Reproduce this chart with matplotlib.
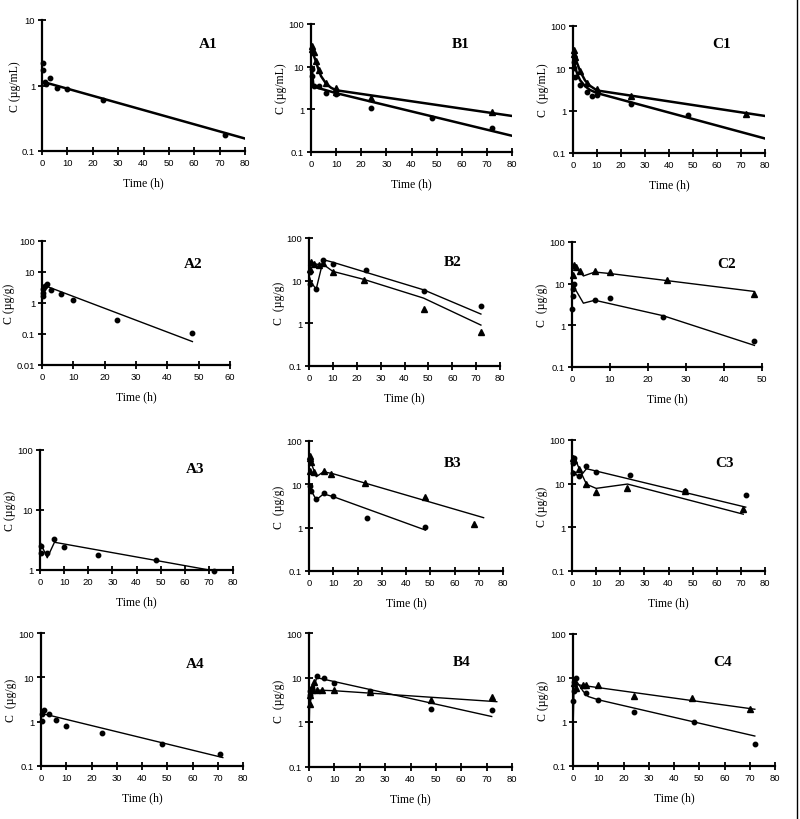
import matplotlib
matplotlib.use('Agg')
import matplotlib.pyplot as plt
from matplotlib.lines import Line2D

plt.rcParams['font.family'] = ['Liberation Serif', 'DejaVu Serif']

# ---- data (t in h, C in ug/mL or ug/g) ----
A1_dot_t = [0.25, 0.5, 1, 1.5, 3, 6, 10, 24, 72]
A1_dot_c = [2.2, 1.7, 1.15, 1.05, 1.3, 0.91, 0.89, 0.61, 0.177]
A1_fit_t = [1, 80]
A1_fit_c = [1.12, 0.155]

B1_tri_t = [0.25, 0.5, 1, 2, 3, 6, 10, 10, 24, 72]
B1_tri_c = [31, 26, 21.6, 13.8, 8.4, 4.07, 3.1, 2.6, 1.84, 0.85]
B1_tri_fit_t = [0, 1, 2, 3, 4, 6, 8, 10, 80]
B1_tri_fit_c = [28, 19, 13, 8.5, 6, 4, 3.2, 2.8, 0.7]
B1_dot_t = [0.25, 0.5, 1, 3, 6, 10, 24, 48, 72]
B1_dot_c = [9, 6.2, 3.6, 3.6, 2.4, 2.3, 1.1, 0.62, 0.36]
B1_dot_fit_t = [0.25, 1, 10, 80]
B1_dot_fit_c = [10, 3.4, 2.4, 0.24]

C1_tri_t = [0.25, 0.5, 1, 3, 6, 10, 24, 72]
C1_tri_c = [27, 22.3, 18.7, 8.5, 4.4, 3.3, 2.2, 0.85]
C1_tri_fit_t = [0, 1, 2, 3, 5, 7, 10, 80]
C1_tri_fit_c = [25, 17, 12, 8.5, 5.2, 3.9, 3.0, 0.75]
C1_dot_t = [0.25, 0.5, 1, 3, 6, 8, 10, 24, 48]
C1_dot_c = [14, 10, 6.3, 4.1, 2.8, 2.2, 2.3, 1.4, 0.78]
C1_dot_fit_t = [0, 1, 2, 3, 5, 7, 10, 80]
C1_dot_fit_c = [18, 10, 6.8, 5.2, 3.8, 3.1, 2.6, 0.22]

A2_dot_t = [0.25, 0.25, 0.25, 0.5, 1, 1.5, 3, 6, 10, 24, 48]
A2_dot_c = [1.7, 2.15, 2.8, 3.4, 3.6, 4.0, 2.6, 1.9, 1.25, 0.28, 0.11]
A2_fit_t = [0.25, 1, 48]
A2_fit_c = [2.0, 3.6, 0.057]

B2_dot_t = [0.25, 0.5, 3, 6, 10, 24, 48, 72]
B2_dot_c = [8.5, 16, 6.5, 30, 24.6, 18, 5.6, 2.6]
B2_dot_fit_t = [0.25, 1, 3, 6, 10, 48, 72]
B2_dot_fit_c = [12, 9, 6.3, 31, 27, 6.1, 1.65]
B2_tri_t = [0.5, 1, 2, 4, 6, 10, 23, 48, 72]
B2_tri_c = [19, 28, 25, 23, 26, 16, 10.5, 2.2, 0.62]
B2_tri_fit_t = [0.5, 1, 2, 4, 6, 10, 23, 48, 72]
B2_tri_fit_c = [22, 29, 25, 24, 24, 16.5, 10.7, 3.9, 0.91]

C2_tri_t = [0.25, 0.5, 1, 2, 6, 10, 25, 48]
C2_tri_c = [16, 28.5, 25, 19.8, 19.9, 19, 12, 5.5]
C2_tri_fit_t = [0.25, 0.5, 1, 3, 6, 10, 48]
C2_tri_fit_c = [25, 28, 26, 15.3, 19, 17.5, 6.5]
C2_dot_t = [0.1, 0.25, 0.25, 0.5, 6, 10, 24, 48]
C2_dot_c = [2.5, 5, 7.5, 10, 4.0, 4.5, 1.6, 0.42]
C2_dot_fit_t = [0.5, 1, 3, 6, 24, 48]
C2_dot_fit_c = [9, 7, 3.4, 4.0, 1.7, 0.33]

A3_dot_t = [0.25, 0.5, 3, 6, 10, 24, 48, 72]
A3_dot_c = [2.5, 1.9, 1.9, 3.3, 2.4, 1.8, 1.48, 0.98]
A3_fit_t = [0.25, 3, 6, 72]
A3_fit_c = [2.8, 1.6, 2.9, 0.97]

B3_tri_t = [0.25, 0.25, 0.5, 1, 2, 6, 9, 23, 48, 68]
B3_tri_c = [20, 40, 46, 33, 19.6, 20, 17, 11, 5.0, 1.2]
B3_tri_fit_t = [0.25, 1, 3, 6, 10, 72]
B3_tri_fit_c = [45, 30, 15, 19.5, 17.5, 1.7]
B3_dot_t = [0.25, 1, 3, 6, 10, 24, 48]
B3_dot_c = [9.2, 7.1, 4.5, 6.2, 5.4, 1.7, 1.05]
B3_dot_fit_t = [0.25, 1, 3, 6, 10, 48]
B3_dot_fit_c = [9, 7, 4.4, 6.0, 5.2, 0.88]

C3_dot_t = [0.25, 0.5, 1, 3, 6, 10, 24, 47, 72]
C3_dot_c = [18, 30, 39, 15, 25.4, 18.8, 15.5, 6.8, 5.6]
C3_dot_fit_t = [0.25, 3, 6, 72]
C3_dot_fit_c = [20, 13.7, 22, 2.9]
C3_tri_t = [0.5, 1, 3, 6, 10, 23, 47, 71]
C3_tri_c = [39, 35, 22, 9.7, 6.4, 8.1, 6.8, 2.6]
C3_tri_fit_t = [0.5, 1, 3, 6, 10, 23, 71]
C3_tri_fit_c = [30, 40, 22, 9.7, 7.8, 9.8, 2.0]

A4_dot_t = [0.25, 0.5, 1, 3, 6, 10, 24, 48, 71]
A4_dot_c = [1.03, 1.47, 1.8, 1.49, 1.11, 0.8, 0.55, 0.31, 0.19]
A4_fit_t = [0.25, 1, 72]
A4_fit_c = [1.3, 1.5, 0.155]

B4_dot_t = [0.25, 0.5, 1, 3, 6, 10, 24, 48, 72]
B4_dot_c = [4, 5, 6, 10.7, 9.7, 7.6, 5.1, 2.0, 1.9]
B4_dot_fit_t = [0.1, 0.25, 3, 72]
B4_dot_fit_c = [1.0, 2.5, 10, 1.35]
B4_tri_t = [0.25, 0.5, 1, 2, 3, 5, 10, 24, 48, 72]
B4_tri_c = [2.6, 4, 5.4, 7.9, 5.4, 5.3, 5.3, 4.9, 3.2, 3.6]
B4_tri_fit_t = [0.25, 2, 10, 74]
B4_tri_fit_c = [3, 5.3, 5.1, 2.9]

C4_dot_t = [0.1, 0.25, 0.5, 1, 5, 10, 24, 48, 72]
C4_dot_c = [3, 5, 8, 9.8, 4.5, 3.1, 1.66, 1.0, 0.31]
C4_dot_fit_t = [0.1, 0.5, 2, 4, 6, 10, 72]
C4_dot_fit_c = [1.1, 10, 7.5, 5, 3.8, 3.2, 0.48]
C4_tri_t = [0.5, 1, 4, 5, 10, 24, 47, 70]
C4_tri_c = [7.9, 6, 7, 7, 7, 4.0, 3.5, 2.0]
C4_tri_fit_t = [0.5, 2, 72]
C4_tri_fit_c = [8.5, 7, 1.95]

# panel name, box in pixels (left, top, right, bottom), xmax, ylim, ylabel, label pos
W, H = 800, 820
panels = [
    ('A1', (42, 21, 245, 152), 80, (0.1, 10), 'C (µg/mL)', (208, 44)),
    ('B1', (311, 25, 512, 153), 80, (0.1, 100), 'C (µg/mL)', (461, 44)),
    ('C1', (573, 27, 765, 154), 80, (0.1, 100), 'C  (µg/mL)', (722, 45)),
    ('A2', (42, 242, 230, 366), 60, (0.01, 100), 'C (µg/g)', (193, 264)),
    ('B2', (309, 239, 500, 367), 80, (0.1, 100), 'C  (µg/g)', (453, 263)),
    ('C2', (572, 243, 762, 368), 50, (0.1, 100), 'C  (µg/g)', (727, 264)),
    ('A3', (40, 451, 233, 571), 80, (1, 100), 'C (µg/g)', (195, 470)),
    ('B3', (309, 442, 503, 572), 80, (0.1, 100), 'C  (µg/g)', (453, 464)),
    ('C3', (572, 441, 765, 572), 80, (0.1, 100), 'C (µg/g)', (725, 464)),
    ('A4', (41, 634, 243, 767), 80, (0.1, 100), 'C  (µg/g)', (195, 664)),
    ('B4', (309, 634, 512, 768), 80, (0.1, 100), 'C  (µg/g)', (462, 663)),
    ('C4', (573, 635, 775, 767), 80, (0.1, 100), 'C (µg/g)', (723, 663)),
]

series = {
    'A1': [('o', A1_dot_t, A1_dot_c, A1_fit_t, A1_fit_c)],
    'B1': [('^', B1_tri_t, B1_tri_c, B1_tri_fit_t, B1_tri_fit_c),
           ('o', B1_dot_t, B1_dot_c, B1_dot_fit_t, B1_dot_fit_c)],
    'C1': [('^', C1_tri_t, C1_tri_c, C1_tri_fit_t, C1_tri_fit_c),
           ('o', C1_dot_t, C1_dot_c, C1_dot_fit_t, C1_dot_fit_c)],
    'A2': [('o', A2_dot_t, A2_dot_c, A2_fit_t, A2_fit_c)],
    'B2': [('o', B2_dot_t, B2_dot_c, B2_dot_fit_t, B2_dot_fit_c),
           ('^', B2_tri_t, B2_tri_c, B2_tri_fit_t, B2_tri_fit_c)],
    'C2': [('^', C2_tri_t, C2_tri_c, C2_tri_fit_t, C2_tri_fit_c),
           ('o', C2_dot_t, C2_dot_c, C2_dot_fit_t, C2_dot_fit_c)],
    'A3': [('o', A3_dot_t, A3_dot_c, A3_fit_t, A3_fit_c)],
    'B3': [('^', B3_tri_t, B3_tri_c, B3_tri_fit_t, B3_tri_fit_c),
           ('o', B3_dot_t, B3_dot_c, B3_dot_fit_t, B3_dot_fit_c)],
    'C3': [('o', C3_dot_t, C3_dot_c, C3_dot_fit_t, C3_dot_fit_c),
           ('^', C3_tri_t, C3_tri_c, C3_tri_fit_t, C3_tri_fit_c)],
    'A4': [('o', A4_dot_t, A4_dot_c, A4_fit_t, A4_fit_c)],
    'B4': [('o', B4_dot_t, B4_dot_c, B4_dot_fit_t, B4_dot_fit_c),
           ('^', B4_tri_t, B4_tri_c, B4_tri_fit_t, B4_tri_fit_c)],
    'C4': [('o', C4_dot_t, C4_dot_c, C4_dot_fit_t, C4_dot_fit_c),
           ('^', C4_tri_t, C4_tri_c, C4_tri_fit_t, C4_tri_fit_c)],
}

fig = plt.figure(figsize=(8, 8.2), dpi=100)

for name, (l, t, r, b), xmax, (ylo, yhi), ylab, (lx, ly) in panels:
    ax = fig.add_axes([l / W, 1 - b / H, (r - l) / W, (b - t) / H])
    lw = 1.8 if name.endswith('1') else 1.0
    for mk, xt, yc, ft, fc in series[name]:
        ax.plot(ft, fc, color='black', lw=lw)
        ax.plot(xt, yc, ls='none', marker=mk, color='black',
                ms=5 if mk == '^' else 3.2, clip_on=False)
    ax.set_yscale('log')
    ax.set_xlim(0, xmax)
    ax.set_ylim(ylo, yhi)
    ax.set_xticks(range(0, xmax + 1, 10))
    decades = []
    v = ylo
    while v <= yhi * 1.001:
        decades.append(v)
        v *= 10
    ax.set_yticks(decades)
    ax.set_yticklabels(['%g' % d for d in decades])
    ax.minorticks_off()
    for s in ['top', 'right']:
        ax.spines[s].set_visible(False)
    for s in ['left', 'bottom']:
        ax.spines[s].set_linewidth(1.6)
    ax.tick_params(axis='both', direction='inout', length=6, width=1.3,
                   labelsize=6.8, pad=2)
    for lab in ax.get_xticklabels() + ax.get_yticklabels():
        lab.set_family(['Liberation Sans', 'DejaVu Sans'])
    ax.set_xlabel('Time (h)', fontsize=8.5, labelpad=7)
    ax.set_ylabel(ylab, fontsize=8.5, labelpad=1)
    fig.text(lx / W, 1 - ly / H, name, fontsize=11, fontweight='bold',
             ha='center', va='center')

# scanned page edge on the right
fig.add_artist(Line2D([797 / W, 797 / W], [0, 1], color='black', lw=1))

fig.savefig('out.png', dpi=100)
